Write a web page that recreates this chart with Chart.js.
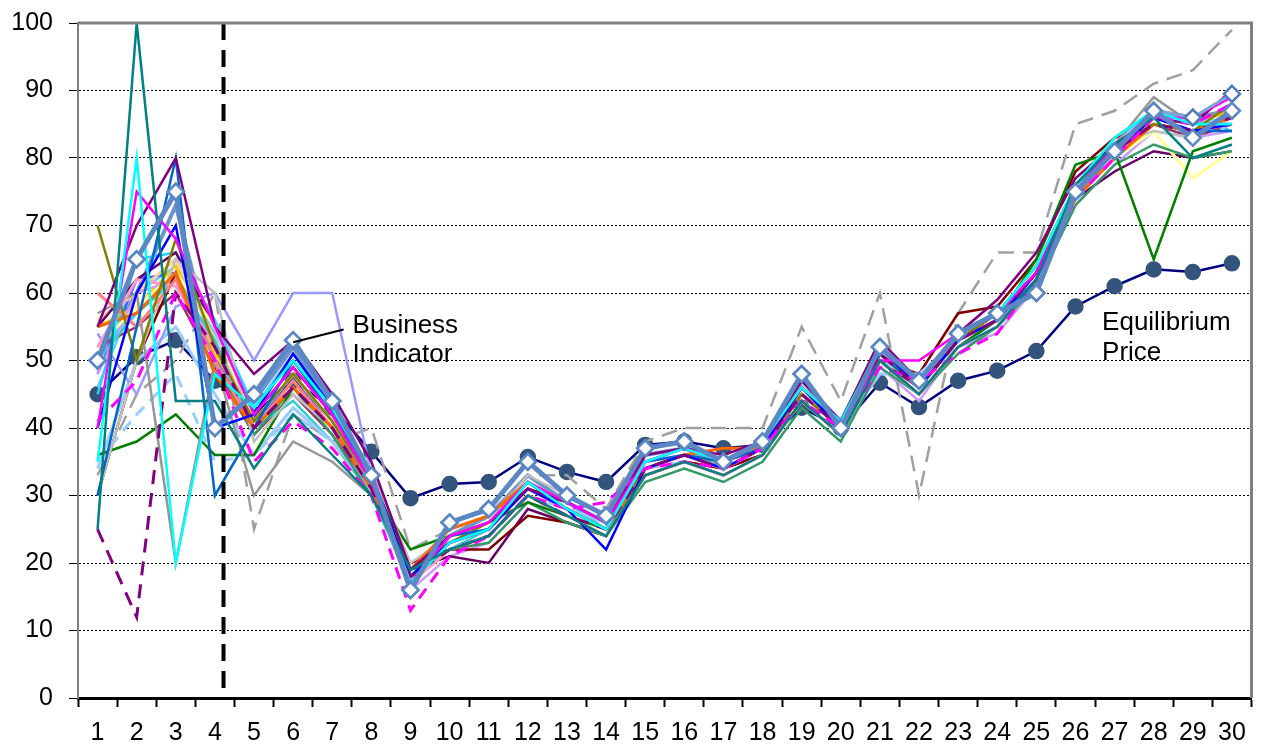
<!DOCTYPE html>
<html>
<head>
<meta charset="utf-8">
<script src="https://cdn.jsdelivr.net/npm/chart.js@4.4.1/dist/chart.umd.min.js"></script>
<style>
  html, body { margin: 0; padding: 0; background: #fff; }
  canvas { display: block; }
</style>
</head>
<body>
<canvas id="chart" width="1262" height="744"></canvas>
<script>
// categories and tick labels
var periods = ['1','2','3','4','5','6','7','8','9','10','11','12','13','14','15','16','17','18','19','20','21','22','23','24','25','26','27','28','29','30'];
var yTicks = [0, 10, 20, 30, 40, 50, 60, 70, 80, 90, 100];

// highlighted series
var businessIndicator = [50,65,75,40,45,53,44,33,16,26,28,35,30,27,37,38,35,38,48,40,52,47,54,57,60,75,81,87,83,87];
var businessIndicator2 = [50,65,75,40,45,53,44,33,16,26,28,35,30,27,37,38,35,38,48,40,52,47,54,57,60,75,81,87,86,89.5];
var equilibriumPrice = [45,50.5,53,47,42,47,43,36.5,29.6,31.7,32,35.7,33.5,32,37.5,38,37,37.5,43,40,46.7,43.1,47,48.5,51.4,58,61,63.5,63.1,64.4];

// individual participants' forecasts
var teal = [25,100,44,44,34,42,36,30,19,22,24,30,27,24,33,35,33,36,44,39,50,45,52,55,62,76,82,86,80,82];
var cyan = [35,80,20,48,43,50,43,33,17,23,25,32,28,25,35,37,35,38,46,41,52,47,54,57,64,76,83,87,85,85];
var magenta = [40,75,68,55,42,49,42,32,17,24,26,32,29,26,35,37,35,38,46,41,50,50,54,57,63,75,82,86,86,89];
var magentaDash = [41,47,60,50,35,41,37,30,13,21,24,30,28,29,34,35,34,37,44,40,49,47,51,54,62,74,80,86,85,88];
var purple = [55,70,80,55,48,53,45,35,19,24,26,31,29,26,36,37,36,38,47,41,53,47,54,59,66,77,82,86,85,90];
var purpleDash = [25,12,60,52,40,46,40,31,18,22,24,30,27,25,34,36,34,37,45,40,51,46,53,56,63,75,81,85,84,86];
var blue = [40,60,70,40,42,51,43,33,18,23,25,31,28,22,34,36,34,37,46,40,52,46,53,56,63,75,81,86,84,85];
var azure = [30,55,80,30,40,50,42,33,18,24,25,32,28,25,35,36,35,37,46,40,51,46,53,56,62,75,82,86,84,84];
var olive = [70,50,68,52,41,48,41,32,19,23,26,31,29,26,34,36,35,37,45,40,51,46,53,57,64,76,82,85,84,88];
var orange = [55,57,63,48,40,46,40,31,19,25,27,32,28,25,34,36,37,37,46,41,51,46,53,57,63,74,80,85,84,86];
var salmon = [60,55,62,50,40,47,40,31,18,23,25,31,28,25,34,36,34,37,45,40,51,46,53,56,63,75,81,85,84,86];
var pink = [52,62,61,52,41,48,41,32,17,22,24,30,27,24,33,35,33,36,44,39,50,45,52,55,62,74,80,86,84,85];
var gray = [57,60,20,50,30,38,35,30,19,23,25,31,28,25,34,36,34,37,45,40,51,46,53,56,63,75,82,89,85,88];
var lightGray = [30,50,65,60,38,45,40,34,20,24,26,33,30,27,35,37,35,38,46,41,52,47,54,57,64,76,82,84,83,87];
var green = [36,38,42,36,36,46,40,31,22,24,26,29,27,25,33,35,33,36,44,39,50,45,52,56,65,79,81,65,81,83];
var seaGreen = [55,57,63,50,39,46,39,30,18,22,23,29,26,24,32,34,32,35,43,38,49,45,51,55,61,73,79,82,80,81];
var lavender = [54,45,58,60,50,60,60,33,18,23,25,31,28,25,34,36,34,37,45,40,51,46,53,56,63,75,81,85,84,85];
var lightBlue = [34,50,55,45,36,43,38,31,18,23,25,31,28,26,35,36,34,37,45,40,48,48,53,56,62,75,82,87,86,85];
var lightBlueDash = [35,42,48,35,36,42,38,30,18,22,24,30,28,25,34,35,33,36,44,40,50,47,52,55,61,74,80,86,86,84];
var darkRed = [30,50,63,48,40,47,40,31,20,22,22,27,26,24,33,35,34,36,44,39,50,48,57,58,65,78,83,85,84,86];
var paleYellow = [52,58,63,55,41,48,41,32,17,22,24,30,27,24,33,35,33,36,44,39,50,45,52,55,62,74,80,84,77,81];
var darkViolet = [55,62,66,55,42,49,42,33,19,21,20,28,26,24,33,35,34,36,44,39,50,46,53,57,63,74,78,81,80,81];
var grayDash = [33,45,50,60,25,42,38,40,22,25,27,33,33,28,38,40,40,40,55,44,60,30,57,66,66,85,87,91,93,99];
var turquoise = [50,57,62,53,40,44,38,30,17,22,25,31,28,26,35,37,34,37,46,40,52,46,53,56,63,75,82,87,85,86];
var sky = [45,65,66,56,43,50,43,33,18,23,25,31,29,25,34,36,35,37,46,41,52,47,54,57,64,75,83,87,86,84];
var violet = [48,60,62,52,40,47,40,31,16,21,23,29,27,24,33,35,33,36,44,39,49,44,52,54,61,73,79,84,83,84];
var peach = [56,60,65,53,41,48,41,32,18,23,25,31,28,25,34,36,34,37,45,40,51,46,53,56,63,75,81,85,84,86];
var steel = [50,60,73,50,44,52,43,33,17,24,27,33,29,26,36,37,35,38,47,41,52,46,54,57,61,75,82,87,86,87];
var gold = [55,58,64,51,42,49,42,32,18,24,26,32,29,26,35,36,35,37,45,41,51,46,53,56,63,75,81,86,85,87];
var royal = [48,62,63,50,41,47,41,31,18,23,25,31,28,25,34,36,34,37,46,40,51,46,53,56,62,74,81,85,84,86];
var plum = [52,55,60,49,39,45,39,31,19,22,24,30,27,24,33,35,33,36,44,39,50,45,52,56,62,74,80,85,83,85];
var aqua = [46,60,64,54,43,51,43,33,18,24,26,32,29,26,35,37,35,38,46,41,52,47,53,57,63,76,82,86,85,86];

function thin(data, color, dash, width) {
    return {
        data: data,
        borderColor: color,
        borderWidth: width || 2.5,
        borderDash: dash || [],
        pointRadius: 0,
        fill: false,
        tension: 0,
        order: 5
    };
}

var datasets = [
    {
        label: 'Business Indicator',
        data: businessIndicator,
        borderColor: '#5B87C5',
        borderWidth: 5,
        pointStyle: 'rectRot',
        pointRadius: 8,
        pointBackgroundColor: '#ffffff',
        pointBorderColor: '#5B87C5',
        pointBorderWidth: 2.5,
        tension: 0,
        order: 0
    },
    {
        label: 'Business Indicator 2',
        data: businessIndicator2,
        borderColor: '#7FA3D3',
        borderWidth: 3,
        pointStyle: 'rectRot',
        pointRadius: 8,
        pointBackgroundColor: '#ffffff',
        pointBorderColor: '#4F7BB8',
        pointBorderWidth: 2.5,
        tension: 0,
        order: 1
    },
    {
        label: 'Equilibrium Price',
        data: equilibriumPrice,
        borderColor: '#000080',
        borderWidth: 2.5,
        pointStyle: 'circle',
        pointRadius: 7,
        pointBackgroundColor: '#33547C',
        pointBorderColor: '#33547C',
        tension: 0,
        order: 8
    },
    thin(teal, '#008080'),
    thin(cyan, '#00FFFF'),
    thin(magenta, '#FF00FF'),
    thin(magentaDash, '#FF00FF', [12, 8], 3),
    thin(purple, '#800080'),
    thin(purpleDash, '#800080', [14, 9], 3),
    thin(blue, '#0000FF'),
    thin(azure, '#0066CC'),
    thin(olive, '#808000'),
    thin(orange, '#FF6600', null, 3),
    thin(salmon, '#FF8080', null, 3),
    thin(pink, '#FF99CC', null, 3),
    thin(gray, '#969696'),
    thin(lightGray, '#C0C0C0'),
    thin(green, '#008000'),
    thin(seaGreen, '#339966'),
    thin(lavender, '#9999FF'),
    thin(lightBlue, '#99CCFF', null, 3),
    thin(lightBlueDash, '#99CCFF', [12, 8], 3),
    thin(darkRed, '#800000'),
    thin(paleYellow, '#FFFF99', null, 3),
    thin(darkViolet, '#660066'),
    thin(grayDash, '#A0A0A0', [16, 9], 2.5),
    thin(turquoise, '#33CCCC'),
    thin(sky, '#33CCFF'),
    thin(violet, '#CC99FF'),
    thin(peach, '#FFCC99', null, 3),
    thin(gold, '#FFCC00'),
    thin(royal, '#3366FF'),
    thin(plum, '#993366'),
    thin(aqua, '#66CCFF'),
    thin(steel, '#6C93CC', null, 4)
];

// frame, vertical divider and text labels
var decorations = {
    id: 'decorations',
    afterDatasetsDraw: function(chart) {
        var ctx = chart.ctx;
        var x = chart.scales.x;
        var y = chart.scales.y;
        var a = chart.chartArea;
        function catPx(v) {
            var i = Math.floor(v);
            var f = v - i;
            return x.getPixelForValue(i) + f * (x.getPixelForValue(i + 1) - x.getPixelForValue(i));
        }

        ctx.save();
        // divider line between periods 4 and 5
        var dx = catPx(3.22);
        ctx.strokeStyle = '#000';
        ctx.lineWidth = 4;
        ctx.setLineDash([17, 10]);
        ctx.beginPath();
        ctx.moveTo(dx, a.top);
        ctx.lineTo(dx, a.bottom);
        ctx.stroke();
        ctx.setLineDash([]);

        // top and right frame
        ctx.strokeStyle = '#808080';
        ctx.lineWidth = 3;
        ctx.beginPath();
        ctx.moveTo(a.left, a.top);
        ctx.lineTo(a.right, a.top);
        ctx.lineTo(a.right, a.bottom);
        ctx.stroke();

        // Business Indicator label
        ctx.strokeStyle = '#000';
        ctx.lineWidth = 2;
        ctx.beginPath();
        ctx.moveTo(catPx(5), y.getPixelForValue(52.7));
        ctx.lineTo(catPx(6.29), y.getPixelForValue(54.6));
        ctx.stroke();

        ctx.fillStyle = '#000';
        ctx.font = '26px "Liberation Sans", Arial, sans-serif';
        ctx.textAlign = 'left';
        ctx.textBaseline = 'middle';
        ctx.fillText('Business', catPx(6.52), y.getPixelForValue(55.2));
        ctx.fillText('Indicator', catPx(6.52), y.getPixelForValue(50.9));

        // Equilibrium Price label
        ctx.fillText('Equilibrium', catPx(25.68), y.getPixelForValue(55.6));
        ctx.fillText('Price', catPx(25.68), y.getPixelForValue(51.1));
        ctx.restore();
    }
};

var ctx = document.getElementById('chart').getContext('2d');
new Chart(ctx, {
    type: 'line',
    data: { labels: periods, datasets: datasets },
    plugins: [decorations],
    options: {
        responsive: false,
        animation: false,
        layout: { padding: { top: 23, right: 10, left: 0, bottom: 0 } },
        plugins: {
            legend: { display: false },
            tooltip: { enabled: false }
        },
        scales: {
            x: {
                offset: true,
                grid: {
                    offset: true,
                    drawOnChartArea: false,
                    drawTicks: true,
                    tickLength: 9,
                    tickWidth: 2,
                    tickColor: '#000'
                },
                border: { color: '#000', width: 3 },
                ticks: {
                    color: '#000',
                    font: { family: '"Liberation Sans", Arial, sans-serif', size: 25 },
                    padding: 11,
                    maxRotation: 0,
                    autoSkip: false
                },
                afterFit: function(scale) {
                    scale.height = 46;
                    scale.paddingLeft = 0;
                    scale.paddingRight = 0;
                }
            },
            y: {
                min: 0,
                max: 100,
                afterBuildTicks: function(scale) {
                    scale.ticks = yTicks.map(function(v) { return { value: v }; });
                },
                grid: {
                    color: '#000',
                    lineWidth: 1,
                    tickLength: 9,
                    tickColor: '#000'
                },
                border: { color: '#808080', width: 2, dash: [2, 2] },
                ticks: {
                    color: '#000',
                    font: { family: '"Liberation Sans", Arial, sans-serif', size: 25 },
                    padding: 16
                },
                afterFit: function(scale) {
                    scale.width = 78;
                    scale.paddingTop = 0;
                    scale.paddingBottom = 0;
                }
            }
        }
    }
});
</script>
</body>
</html>
